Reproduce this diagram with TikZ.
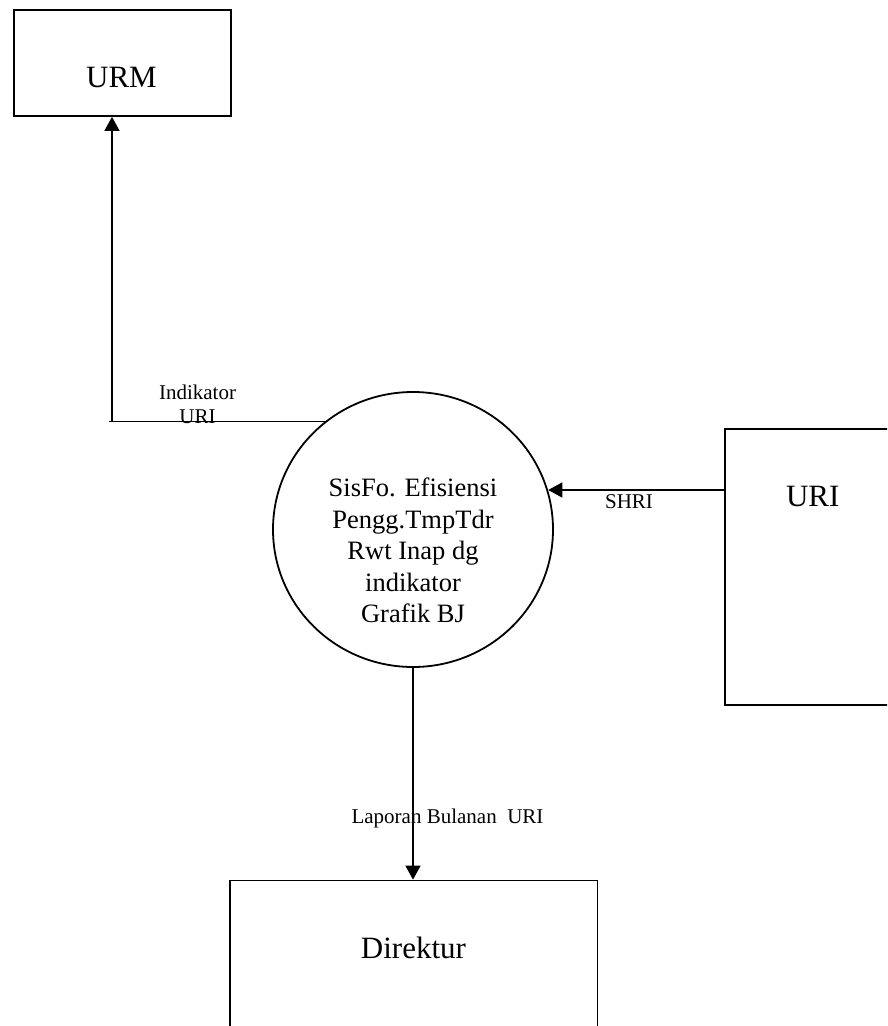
\documentclass[tikz,border=0pt]{standalone}
\usepackage{fontspec}
\setmainfont{Liberation Serif}
\usetikzlibrary{arrows.meta,shapes.geometric}
\begin{document}
\begin{tikzpicture}[x=1pt,y=-1pt,
  entity/.style={draw, line width=1.8pt, rectangle, inner sep=0pt},
  process/.style={draw, line width=1.8pt, ellipse, inner sep=0pt,
                  minimum width=280pt, minimum height=275pt},
  bigtext/.style={font=\fontsize{31}{37}\selectfont, inner sep=0pt, anchor=base},
  proctext/.style={font=\fontsize{26.5}{31.5}\selectfont, align=center,
                   inner sep=0pt, anchor=north},
  flowlabel/.style={font=\fontsize{21}{24}\selectfont, inner sep=0pt},
  flow/.style={line width=1.4pt},
  arrow/.style={flow, -{Triangle[width=15pt,length=14pt]}},
]
\useasboundingbox (0,0) rectangle (887,1026);
\clip (0,0) rectangle (887,1026);
\fill[white] (0,0) rectangle (887,1026);

% external entities
\node[entity, minimum width=217pt, minimum height=106pt] (urm) at (122.5,63) {};
\node[bigtext] (urmtext) at (121.5,87.3) {URM};

\node[entity, minimum width=200pt, minimum height=276pt] (uri) at (825,567) {};
\node[bigtext] (uritext) at (812.7,506) {URI};

\node[entity, minimum width=367.5pt, minimum height=200pt] (dir) at (413.75,980.5) {};
\node[bigtext] (dirtext) at (413.5,958.3) {Direktur};

% process
\node[process] (proc) at (413,529.5) {};
\node[proctext] (proctxt) at (413,478)
  {SisFo. Efisiensi\\Pengg.TmpTdr\\Rwt Inap dg\\indikator\\Grafik BJ};

% data flows
\coordinate (bend) at (112,421.5);
\coordinate (shri) at (0,490);
\draw[flow] (proc.128.9 |- bend) -- (bend) -- ++(-3,0);
\draw[arrow] (bend) -- (urm.south -| bend);
\node[flowlabel, align=center, anchor=north] (lblind) at (197.5,385) {Indikator\\URI};

\draw[arrow] (uri.west |- shri) -- (proc.16.4 |- shri);
\node[flowlabel, anchor=base] (lblshri) at (629,508.3) {SHRI};

\draw[arrow] (proc.south) -- (dir.north -| proc.south);
\node[flowlabel, anchor=base] (lbllap) at (447.5,823) {Laporan Bulanan~ URI};
\end{tikzpicture}
\end{document}
